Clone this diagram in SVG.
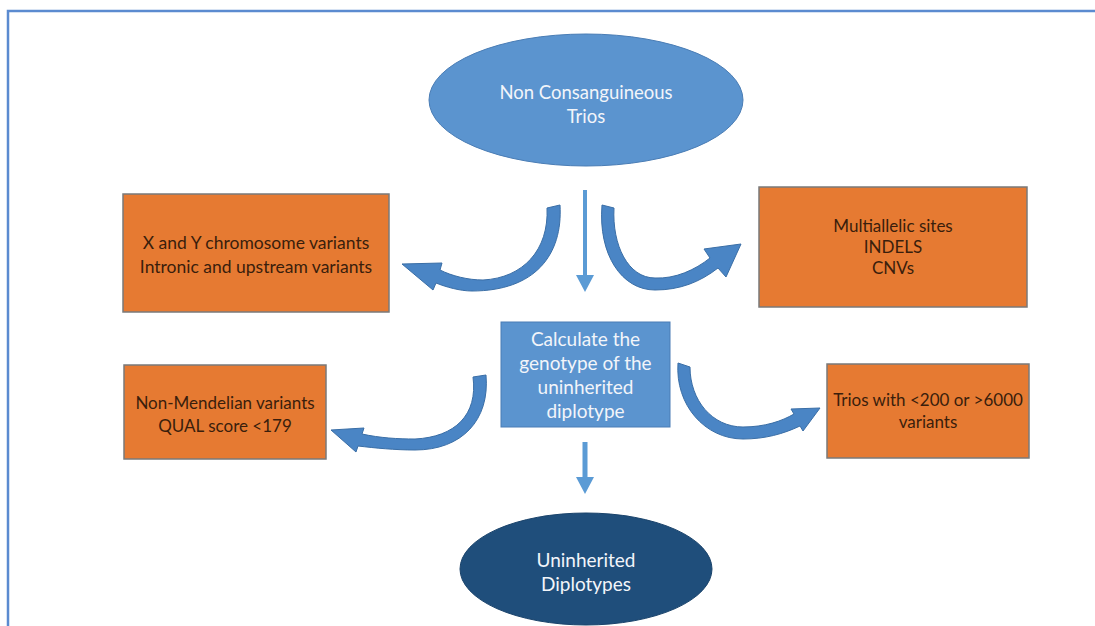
<svg xmlns="http://www.w3.org/2000/svg" width="1095" height="626" viewBox="0 0 1095 626">
<style>
.frame{fill:none;stroke:#5b8bd0;stroke-width:2.5}
.orange{fill:#e67a32;stroke:#7a7a7a;stroke-width:1.5}
.blue{fill:#5b94cf;stroke:#4a7db5;stroke-width:1}
.dark{fill:#1f4e7b;stroke:#1a436b;stroke-width:1}
.curve{fill:#4a85c5;stroke:#3a6ea6;stroke-width:1}
.straight{fill:#5b9bd5}
text{font-family:Lato,"Open Sans",sans-serif;text-anchor:middle}
.ot{fill:#3a1e0c;font-size:17px}
.wt{fill:#f2f5fa;font-size:18.5px}
.ct{fill:#f2f5fa;font-size:19px}
</style>
<rect width="1095" height="626" fill="#ffffff"/>
<path class="frame" d="M8,626 V11 H1095"/>
<g id="n-trios">
<ellipse class="blue" cx="586" cy="100" rx="157" ry="66"/>
<text class="wt" x="586" y="99">Non Consanguineous</text>
<text class="wt" x="586" y="123">Trios</text>
</g>
<g id="n-xy">
<rect class="orange" x="123" y="194" width="266" height="118"/>
<text class="ot" x="256" y="249" style="font-size:17.5px">X and Y chromosome variants</text>
<text class="ot" x="256" y="273" style="font-size:17.5px">Intronic and upstream variants</text>
</g>
<g id="n-multi">
<rect class="orange" x="759" y="187" width="268" height="120"/>
<text class="ot" x="893" y="232">Multiallelic sites</text>
<text class="ot" x="893" y="253">INDELS</text>
<text class="ot" x="893" y="274">CNVs</text>
</g>
<g id="n-calc">
<rect class="blue" x="501" y="322" width="169" height="105"/>
<text class="ct" x="585.5" y="346">Calculate the</text>
<text class="ct" x="585.5" y="370">genotype of the</text>
<text class="ct" x="585.5" y="394">uninherited</text>
<text class="ct" x="585.5" y="418">diplotype</text>
</g>
<g id="n-mendel">
<rect class="orange" x="124" y="365" width="202" height="94"/>
<text class="ot" x="225" y="409">Non-Mendelian variants</text>
<text class="ot" x="225" y="432">QUAL score &lt;179</text>
</g>
<g id="n-triosvar">
<rect class="orange" x="827" y="364" width="202" height="94"/>
<text class="ot" x="928" y="406">Trios with &lt;200 or &gt;6000</text>
<text class="ot" x="928" y="428">variants</text>
</g>
<g id="n-uninh">
<ellipse class="dark" cx="586" cy="569" rx="126" ry="56"/>
<text class="wt" x="586" y="567" style="font-size:19px">Uninherited</text>
<text class="wt" x="586" y="591" style="font-size:19px">Diplotypes</text>
</g>
<g id="connectors">
<path class="straight" d="M583,190 H587 V275 H594 L585,292 L576,275 H583 Z"/>
<path class="straight" d="M582.5,442 H587.5 V477 H594 L585,494 L576,477 H582.5 Z"/>
<path class="curve" d="M547,208 L560,205 C563,255 535,291 472,291 C460,291 446,287 436,283 L433,290 L402,264 L442,263 L440,270 C452,276 468,280 483,280 C523,278 549,250 547,208 Z"/>
<path class="curve" d="M602,205 L614,208 C612,245 628,278 655,278 C675,279 695,270 710,258 L704,249 L741,244 L726,277 L718,268 C700,282 680,290 655,290 C622,290 598,255 602,205 Z"/>
<path class="curve" d="M473,377 L486,375 C490,420 462,450 415,450 C395,450 375,448 358,446 L356,452 L331,430 L364,428 L362,434 C380,438 398,439 415,439 C455,437 478,415 473,377 Z"/>
<path class="curve" d="M678,363 L690,367 C690,400 712,427 743,427 C765,427 782,421 794,414 L791,409 L820,408 L803,431 L800,426 C783,434 765,439 743,439 C705,439 675,405 678,363 Z"/>
</g>
</svg>
